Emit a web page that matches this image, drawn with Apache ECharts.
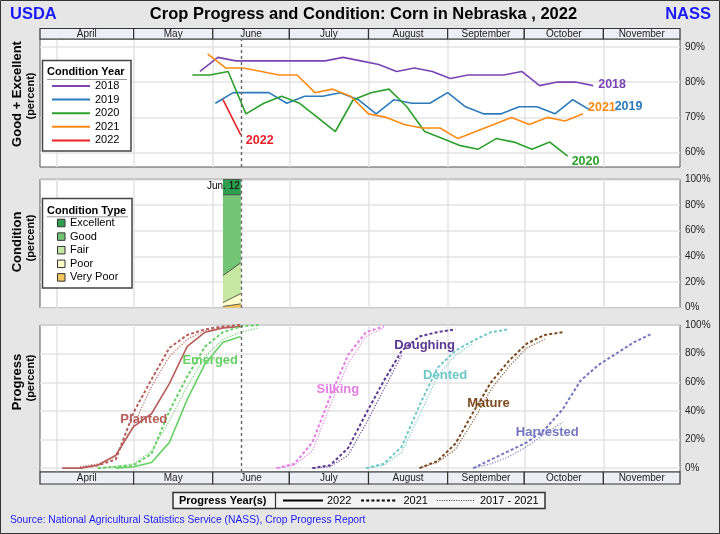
<!DOCTYPE html>
<html><head><meta charset="utf-8">
<script src="https://cdn.jsdelivr.net/npm/echarts@6/dist/echarts.min.js"></script>
<style>html,body{margin:0;padding:0;background:#e6e6e6}#c{width:720px;height:534px}</style>
</head><body><div id="c"></div>
<script>
const FONT = '"Liberation Sans", Arial, Helvetica, sans-serif';
function D(s){ const p = s.split(/[- :]/).map(Number); return Date.UTC(2022, p[0]-1, p[1], p[2]||0, p[3]||0); }
function weekly(start, values){ const t0 = D(start); return values.map((v,i)=>[t0 + i*7*864e5, v]); }

// ---- axis / header ----
const months = ['April','May','June','July','August','September','October','November'];
const monthBounds = ['04-01','05-01','06-01','07-01','08-01','09-01','10-01','11-01','12-01'];
const xMinStr = '03-25 08:00', xMaxStr = '12-01';
const geTicks = [60,70,80,90];
const pctTicks = [0,20,40,60,80,100];
const currentWeek = '06-12';

// ---- Good + Excellent by condition year (weekly from start date) ----
const condYears = ['2018','2019','2020','2021','2022'];
const condColors = ['#7b44b3','#2b7bba','#2ca02c','#ff8a14','#e8212b'];
const condStarts = ['05-27','06-02','05-24','05-30','06-05'];
const cond2018 = [83,87,86,86,86,86,86,86,87,86,85,83,84,83,81,82,82,82,83,79,80,80,79];
const cond2019 = [74,77,77,77,74,76,76,77,75,71,75,74,74,77,73,71,71,73,73,71,75,72];
const cond2020 = [82,82,83,71,74,76,74,70,66,75,77,78,73,66,64,62,61,64,63,61,63,59];
const cond2021 = [88,84,84,83,82,82,77,78,76,71,70,68,67,67,64,66,68,70,68,70,69,71];
const cond2022 = [75,65];
const condValues = [cond2018, cond2019, cond2020, cond2021, cond2022];
const condLabelOffsets = [[0,-1],[19,-4],[-1,5],[0,-6],[0,6]];

// ---- Condition 2022 ----
const condDates = ['06-05','06-12'];
const condTypes = ['Excellent','Good','Fair','Poor','Very Poor'];
const condTypeColors = ['#2e9e4e','#74c476','#c6e8a2','#ffffcc','#f6c65c'];
const excellent = [12,12];
const good = [63,53];
const fair = [21,24];
const poor = [3,8];
const veryPoor = [1,3];

// ---- Progress (weekly from start date) ----
const stageNames = ['Planted','Emerged','Silking','Doughing','Dented','Mature','Harvested'];
const stageColors = ['#b65e5a','#66d066','#e47ee4','#5c3790','#6ec8c8','#7a4a1f','#7575bf'];
const prog2022 = {
  Planted: ['04-03',[0,0,2,9,29,38,59,85,95,98,99]],
  Emerged: ['04-24',[0,1,4,18,48,73,88,92]]
};
const prog2021 = {
  Planted: ['04-10',[0,2,6,39,62,84,93,97,99,100]],
  Emerged: ['04-17',[0,1,2,10,40,64,85,95,99,100]],
  Silking: ['06-26',[0,3,18,50,79,95,99]],
  Doughing: ['07-10',[0,2,14,38,61,82,92,95,97]],
  Dented: ['07-31',[0,3,15,44,70,82,89,95,97]],
  Mature: ['08-21',[0,5,17,39,60,75,87,93,95]],
  Harvested: ['09-11',[0,6,12,18,27,41,61,72,80,88,94]]
};
const progAvg = {
  Planted: ['04-10',[1,3,8,30,57,78,90,96,98,99]],
  Emerged: ['04-17',[0,1,3,12,33,57,78,90,95,98]],
  Silking: ['06-26',[0,2,12,44,73,92,98]],
  Doughing: ['07-10',[0,1,9,31,55,79]],
  Dented: ['07-31',[0,2,11,37,64,79,87]],
  Mature: ['08-21',[0,4,13,33,55,71,84,90]],
  Harvested: ['09-11',[0,3,8,15,24,32]]
};
const stageLabelPos = {
  Planted: ['05-05',34], Emerged: ['05-31',75], Silking: ['07-20',55],
  Doughing: ['08-23',85.5], Dented: ['08-31',65], Mature: ['09-17',45], Harvested: ['10-10',24.7]
};

// ---- build ----
const XMIN = D(xMinStr), XMAX = D(xMaxStr);
const gridDates = monthBounds.slice(0,8).map(D);
const headerCells = months.map((m,i)=>[i===0 ? XMIN : D(monthBounds[i]), D(monthBounds[i+1])]);
const GRIDC = '#e3e3e3';

function headerRender(params, api){
  const p0 = api.coord([api.value(0), 1]);
  const p1 = api.coord([api.value(1), 0]);
  return {type:'group', children:[
    {type:'rect', shape:{x:p0[0], y:p0[1], width:p1[0]-p0[0], height:p1[1]-p0[1]},
     style:{fill:'#eeeef6', stroke:'#333', lineWidth:1.2}},
    {type:'text', style:{text: months[params.dataIndex], x:(p0[0]+p1[0])/2, y:(p0[1]+p1[1])/2+0.5,
      align:'center', verticalAlign:'middle', fill:'#222', font:'10px '+FONT}}
  ]};
}

const grids = [
  {left:40, width:640, top:28.5, height:10.5},
  {left:40, width:640, top:39, height:128, show:true, backgroundColor:'#fff', borderColor:'#555', borderWidth:1},
  {left:40, width:640, top:179.3, height:128.4, show:true, backgroundColor:'#fff', borderColor:'#555', borderWidth:1},
  {left:40, width:640, top:325, height:147, show:true, backgroundColor:'#fff', borderColor:'#555', borderWidth:1},
  {left:40, width:640, top:472, height:12}
];
grids.forEach(g=>{ g.outerBoundsMode = 'none'; g.containLabel = false; });

const xAxes = grids.map((g,i)=>({
  type: i===2 ? 'time' : 'value', gridIndex:i, min:XMIN, max:XMAX, show: (i>=1 && i<=3),
  axisLine:{show:false}, axisTick:{show:false, customValues:gridDates},
  axisLabel:{show:false, customValues:gridDates},
  splitLine:{show:true, lineStyle:{color:GRIDC, width:1.5}},
  minorSplitLine:{show:false}
}));
function yPct(i, min, max, ticks){
  return {type:'value', gridIndex:i, position:'right', min:min, max:max,
    axisLine:{show:false}, axisTick:{show:false, customValues:ticks},
    axisLabel:{customValues:ticks, formatter:'{value}%', color:'#222', fontSize:10, margin:5, fontFamily:FONT},
    splitLine:{show:true, lineStyle:{color:GRIDC, width:1.5}}};
}
const yAxes = [
  {type:'value', gridIndex:0, min:0, max:1, show:false},
  yPct(1, 55.95, 92.2, geTicks),
  yPct(2, 0, 100, pctTicks),
  yPct(3, -2.7, 100, pctTicks),
  {type:'value', gridIndex:4, min:0, max:1, show:false}
];

const vline = {symbol:['none','none'], silent:true, label:{show:false},
  lineStyle:{color:'#666', type:[3,3], width:1.4}, data:[{xAxis:D(currentWeek)}]};

const series = [];
series.push({type:'custom', xAxisIndex:0, yAxisIndex:0, renderItem:headerRender, data:headerCells, encode:{x:[0,1]}, silent:true});
series.push({type:'custom', xAxisIndex:4, yAxisIndex:4, renderItem:headerRender, data:headerCells, encode:{x:[0,1]}, silent:true});

condYears.forEach((y,i)=>{
  const s = {name:y, type:'line', xAxisIndex:1, yAxisIndex:1, data:weekly(condStarts[i], condValues[i]),
    symbol:'none', lineStyle:{width:1.6, color:condColors[i]}, itemStyle:{color:condColors[i]}, z:3,
    endLabel:{show:true, formatter:y, color:condColors[i], fontWeight:'bold', fontSize:12.5, fontFamily:FONT,
      distance:5, offset:condLabelOffsets[i]}};
  if (y === '2022') s.markLine = vline;
  series.push(s);
});

const condStack = [['Very Poor',veryPoor,4],['Poor',poor,3],['Fair',fair,2],['Good',good,1],['Excellent',excellent,0]];
condStack.forEach(([name, vals, ci])=>{
  const data = condDates.map((d,k)=>[D(d), vals[k]]);
  const s = {name:name, type:'line', xAxisIndex:2, yAxisIndex:2, stack:'cond', data:data,
    symbol:'circle', symbolSize:0, showSymbol:true,
    lineStyle:{color:'#333', width:0.8}, itemStyle:{color:condTypeColors[ci]},
    areaStyle:{color:condTypeColors[ci], opacity:1}, z:2};
  if (name === 'Excellent') {
    data[data.length-1] = {value:data[data.length-1], label:{show:true, formatter:'Jun. 12', position:'left',
      distance:1, offset:[0,7], color:'#000', fontSize:10, fontFamily:FONT}};
    s.markLine = vline;
  }
  series.push(s);
});

stageNames.forEach((st,i)=>{
  const c = stageColors[i];
  if (prog2022[st]) {
    const s = {name:st+' 2022', type:'line', xAxisIndex:3, yAxisIndex:3, data:weekly(prog2022[st][0], prog2022[st][1]),
      symbol:'none', lineStyle:{color:c, width:1.6}, itemStyle:{color:c}, z:3};
    if (st === 'Planted') s.markLine = vline;
    series.push(s);
  }
  series.push({name:st+' 2021', type:'line', xAxisIndex:3, yAxisIndex:3, data:weekly(prog2021[st][0], prog2021[st][1]),
    symbol:'none', lineStyle:{color:c, width:2, type:[3,2.2]}, itemStyle:{color:c}, z:3,
    markPoint:{symbol:'circle', symbolSize:1, itemStyle:{color:'rgba(0,0,0,0)'}, silent:true,
      data:[{coord:[D(stageLabelPos[st][0]), stageLabelPos[st][1]],
        label:{show:true, position:'inside', formatter:st, color:c, fontWeight:'bold', fontSize:13, fontFamily:FONT}}]}});
  series.push({name:st+' 2017 - 2021', type:'line', xAxisIndex:3, yAxisIndex:3, data:weekly(progAvg[st][0], progAvg[st][1]),
    symbol:'none', lineStyle:{color:c, width:1.3, type:[1.2,1.6], opacity:0.85}, itemStyle:{color:c}, z:3});
});

const T = (text, x, y, font, fill, align) => ({type:'text', x:x, y:y, z:20,
  style:{text:text, font:font, fill:fill||'#000', align:align||'left', verticalAlign:'middle'}});
const vt = (text, x, y, font) => ({type:'text', x:x, y:y, rotation:Math.PI/2, z:20,
  style:{text:text, font:font, fill:'#000', align:'center', verticalAlign:'middle'}});

const graphic = [
  {type:'rect', z:30, shape:{x:0.5, y:0.5, width:719, height:533}, style:{fill:null, stroke:'#333', lineWidth:1}},
  T('USDA', 10, 14, 'bold 16.5px '+FONT, '#1a1aff'),
  T('NASS', 711, 14, 'bold 16.5px '+FONT, '#1a1aff', 'right'),
  T('Crop Progress and Condition: Corn in Nebraska , 2022', 363.5, 14, 'bold 16.5px '+FONT, '#000', 'center'),
  vt('Good + Excellent', 17, 94, 'bold 13px '+FONT),
  vt('(percent)', 31, 96, 'bold 11px '+FONT),
  vt('Condition', 17, 242, 'bold 13px '+FONT),
  vt('(percent)', 31, 238, 'bold 11px '+FONT),
  vt('Progress', 17, 382, 'bold 13px '+FONT),
  vt('(percent)', 31, 378, 'bold 11px '+FONT),
  // Condition Year legend box
  {type:'rect', z:5, shape:{x:42.5, y:60.5, width:88.5, height:90.5}, style:{fill:'#fff', stroke:'#444', lineWidth:1.5}},
  T('Condition Year', 47, 72.3, 'bold 11px '+FONT),
  {type:'line', z:20, shape:{x1:47, y1:79.5, x2:127, y2:79.5}, style:{stroke:'#999', lineWidth:1}},
  // Condition Type legend box
  {type:'rect', z:5, shape:{x:42.5, y:198.5, width:89.5, height:89.5}, style:{fill:'#fff', stroke:'#444', lineWidth:1.5}},
  T('Condition Type', 47, 210.7, 'bold 11px '+FONT),
  {type:'line', z:20, shape:{x1:47, y1:216.8, x2:128, y2:216.8}, style:{stroke:'#999', lineWidth:1}},
  // Progress Year(s) legend
  {type:'rect', z:5, shape:{x:173, y:492.5, width:372, height:16}, style:{fill:'#f4f4f4', stroke:'#333', lineWidth:1.5}},
  {type:'line', z:20, shape:{x1:275.5, y1:492.5, x2:275.5, y2:508.5}, style:{stroke:'#333', lineWidth:1.2}},
  T('Progress Year(s)', 179, 500.5, 'bold 11px '+FONT),
  {type:'line', z:20, shape:{x1:283, y1:500.5, x2:323, y2:500.5}, style:{stroke:'#000', lineWidth:2}},
  T('2022', 327, 500.5, '11px '+FONT),
  {type:'line', z:20, shape:{x1:361, y1:500.5, x2:397, y2:500.5}, style:{stroke:'#000', lineWidth:2, lineDash:[3,2.2]}},
  T('2021', 403.5, 500.5, '11px '+FONT),
  {type:'line', z:20, shape:{x1:437, y1:500.5, x2:474, y2:500.5}, style:{stroke:'#333', lineWidth:1.2, lineDash:[1,1.4]}},
  T('2017 - 2021', 480, 500.5, '11px '+FONT),
  T('Source: National Agricultural Statistics Service (NASS), Crop Progress Report', 10, 520.5, '10.3px '+FONT, '#1a1aff')
];

const legendText = {fontSize:11, color:'#000', fontFamily:FONT};
const option = {
  animation:false,
  backgroundColor:'#e6e6e6',
  grid:grids, xAxis:xAxes, yAxis:yAxes, series:series, graphic:graphic,
  legend:[
    {data:condYears.map(n=>({name:n, icon:'rect'})), orient:'vertical', left:52, top:80.5, itemWidth:38, itemHeight:2, itemGap:2.6, padding:0,
      selectedMode:false, textStyle:legendText, z:25, itemStyle:{borderWidth:0}},
    {data:condTypes.map(n=>({name:n, icon:'rect'})), orient:'vertical', left:57, top:217.5, itemWidth:7.5, itemHeight:7.5,
      itemGap:2.6, padding:0, selectedMode:false, textStyle:legendText, z:25,
      itemStyle:{borderColor:'#333', borderWidth:1}}
  ]
};
const chart = echarts.init(document.getElementById('c'), null, {renderer:'canvas'});
chart.setOption(option);
</script></body></html>
